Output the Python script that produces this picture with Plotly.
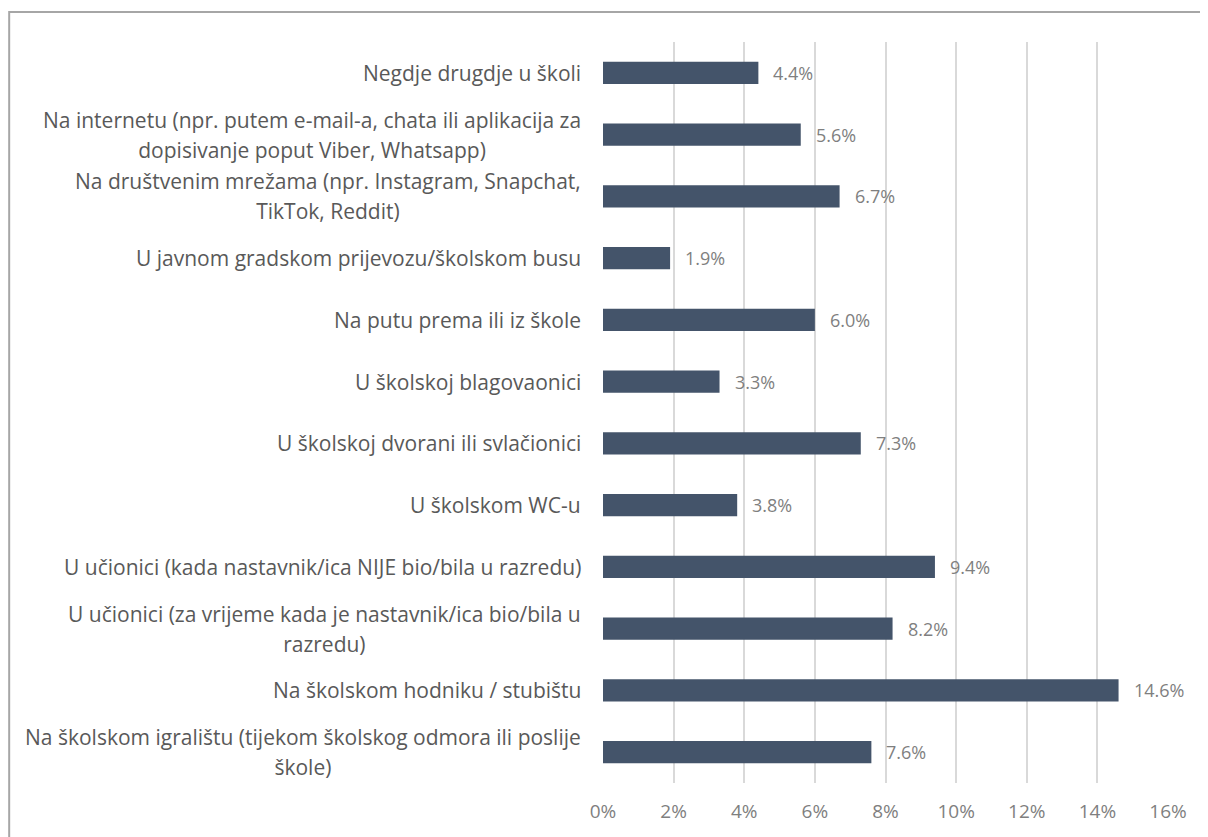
import plotly.graph_objects as go

# categories from bottom to top
categories = [
    "Na školskom igralištu (tijekom školskog odmora ili poslije<br>škole)",
    "Na školskom hodniku / stubištu",
    "U učionici (za vrijeme kada je nastavnik/ica bio/bila u<br>razredu)",
    "U učionici (kada nastavnik/ica NIJE bio/bila u razredu)",
    "U školskom WC-u",
    "U školskoj dvorani ili svlačionici",
    "U školskoj blagovaonici",
    "Na putu prema ili iz škole",
    "U javnom gradskom prijevozu/školskom busu",
    "Na društvenim mrežama (npr. Instagram, Snapchat,<br>TikTok, Reddit)",
    "Na internetu (npr. putem e-mail-a, chata ili aplikacija za<br>dopisivanje poput Viber, Whatsapp)",
    "Negdje drugdje u školi",
]
values = [7.6, 14.6, 8.2, 9.4, 3.8, 7.3, 3.3, 6.0, 1.9, 6.7, 5.6, 4.4]
tick_vals = [0, 2, 4, 6, 8, 10, 12, 14, 16]
tick_text = [f"{t}%" for t in tick_vals]

bar_color = "#44546A"
cat_color = "#595959"
num_color = "#7F7F7F"
font_name = "Open Sans"

ypos = list(range(len(categories)))

fig = go.Figure(go.Bar(
    x=values, y=ypos, orientation="h",
    marker=dict(color=bar_color, line=dict(width=0)),
    width=0.36,
))

# category labels, centred multi-line like the original
# (outer font size sets the line spacing, inner span the glyph size)
for i, c in enumerate(categories):
    txt = "<br>".join(f"<span style='font-size:21px'>{ln}</span>" for ln in c.split("<br>"))
    fig.add_annotation(
        x=0, xref="paper", y=i, yref="y", text=txt, showarrow=False,
        xanchor="right", xshift=-20, align="center",
        font=dict(family=font_name, size=23, color=cat_color),
    )

# value labels
for i, v in enumerate(values):
    fig.add_annotation(
        x=v, xref="x", y=i, yref="y", text=f"{v:.1f}%", showarrow=False,
        xanchor="left", xshift=13,
        font=dict(family=font_name, size=18, color=num_color),
    )

fig.update_layout(
    width=1208, height=837,
    margin=dict(l=595, r=48, t=34, b=62),
    plot_bgcolor="white", paper_bgcolor="white",
    showlegend=False,
    font=dict(family=font_name),
    xaxis=dict(
        range=[0, 16], tickvals=tick_vals, ticktext=tick_text,
        showgrid=True, gridcolor="#D9D9D9", gridwidth=1.5,
        zeroline=False, showline=False, ticks="",
        ticklabelstandoff=15,
        tickfont=dict(family=font_name, size=19, color=num_color),
    ),
    yaxis=dict(
        range=[-0.5, len(categories) - 0.5], showticklabels=False,
        showgrid=False, zeroline=False, showline=False,
    ),
    shapes=[dict(
        type="rect", xref="paper", yref="paper",
        x0=-1.051, x1=1.08, y0=-0.09, y1=1.0405,
        line=dict(color="#A6A6A6", width=2), fillcolor="rgba(0,0,0,0)",
    )],
)

fig.write_html("out.html")
